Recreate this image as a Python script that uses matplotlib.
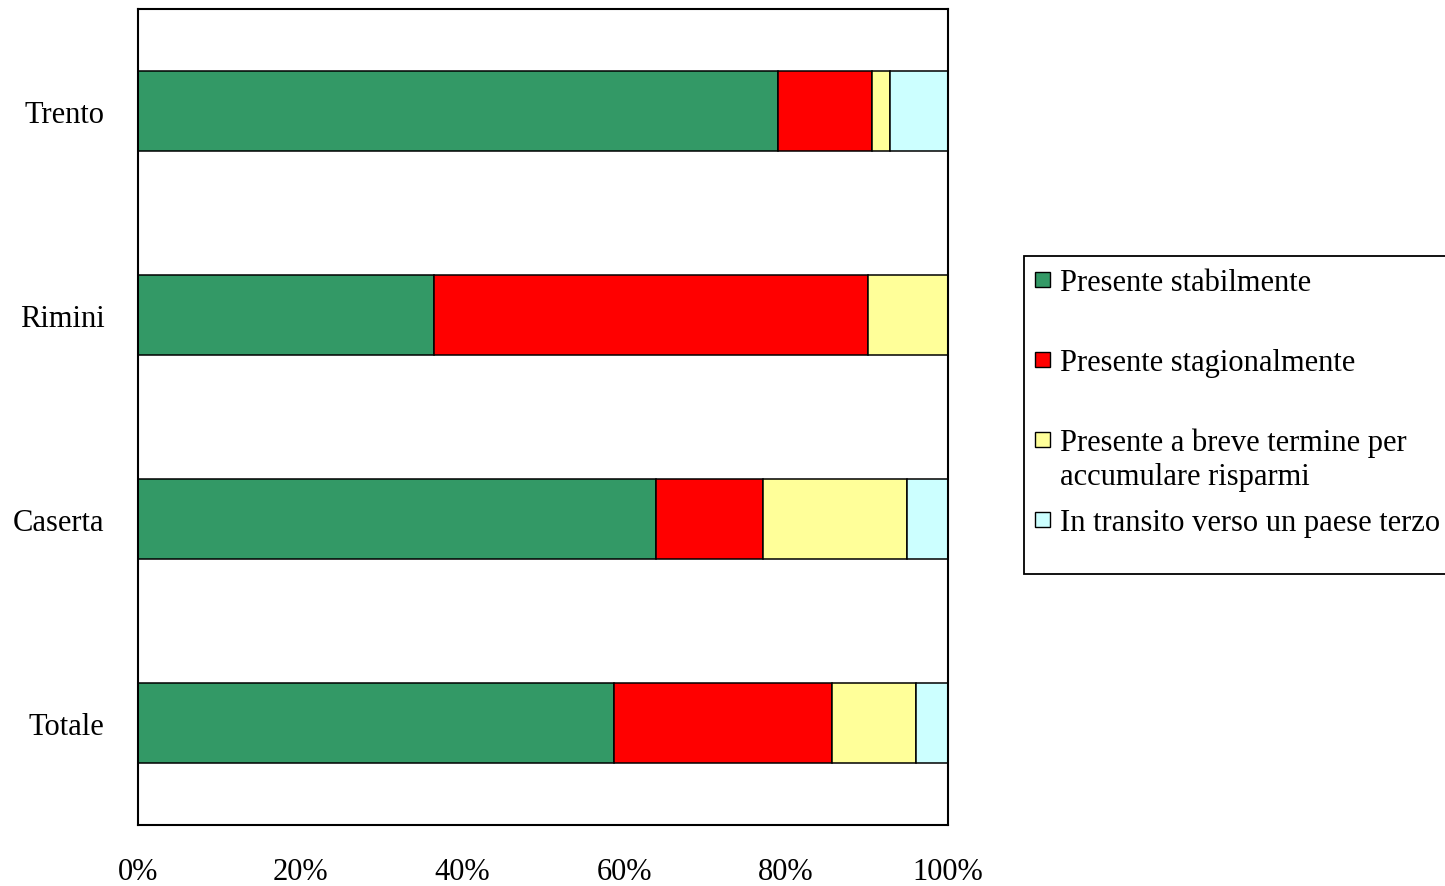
import numpy as np
import matplotlib.pyplot as plt
from matplotlib.patches import Rectangle

plt.rcParams['font.family'] = ['Liberation Serif', 'DejaVu Serif']

cities = ['Trento', 'Rimini', 'Caserta', 'Totale']
stabile = [79.0, 36.5, 64.0, 58.8]
stagionale = [11.6, 53.6, 13.1, 26.9]
breve = [2.2, 9.9, 17.8, 10.4]
transito = [7.2, 0.0, 5.1, 3.9]

labels = ['Presente stabilmente', 'Presente stagionalmente',
          'Presente a breve termine per\naccumulare risparmi',
          'In transito verso un paese terzo']
colors = ['#339966', '#ff0000', '#ffff99', '#ccffff']

W, H = 1445, 887
fig = plt.figure(figsize=(W / 100, H / 100), dpi=100)
ax = fig.add_axes([138 / W, 1 - 826 / H, 810 / W, 816 / H])

y = np.arange(len(cities))
left = np.zeros(len(cities))
for vals, col in zip([stabile, stagionale, breve, transito], colors):
    vals = np.array(vals)
    ax.barh(y, vals, left=left, height=0.39, color=col,
            edgecolor='black', linewidth=1.1)
    left += vals

ax.set_xlim(0, 100)
ax.set_ylim(3.5, -0.5)
ax.set_xticks(np.arange(0, 101, 20))
ax.set_xticklabels([f'{v}%' for v in range(0, 101, 20)])
ax.set_yticks(y)
ax.set_yticklabels(cities)
ax.tick_params(axis='x', length=0, pad=23, labelsize=22)
ax.tick_params(axis='y', length=0, pad=24, labelsize=22)
for s in ax.spines.values():
    s.set_linewidth(1.5)

# legend drawn by hand so the square sits beside the first line of each entry
fig.patches.append(Rectangle((1024 / W, 1 - 575 / H), 440 / W, 318 / H,
                             transform=fig.transFigure, facecolor='white',
                             edgecolor='black', linewidth=1.3))
rows = [280, 360, 440, 520]
for lab, col, yc in zip(labels, colors, rows):
    fig.patches.append(Rectangle((1035 / W, 1 - (yc + 8) / H), 15 / W, 15 / H,
                                 transform=fig.transFigure, facecolor=col,
                                 edgecolor='black', linewidth=1.0))
    fig.text(1060 / W, 1 - (yc - 11) / H, lab, fontsize=22, va='top',
             ha='left', linespacing=1.2)

fig.savefig('out.png', dpi=100)
